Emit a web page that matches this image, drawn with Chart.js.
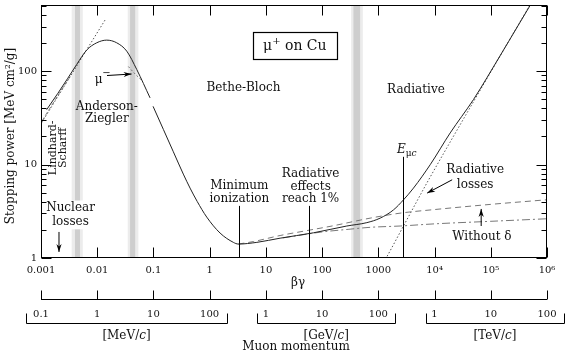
<!DOCTYPE html>
<html><head><meta charset="utf-8">
<script src="https://cdn.jsdelivr.net/npm/chart.js@4.4.1/dist/chart.umd.min.js"></script>
<style>html,body{margin:0;padding:0;background:#fff}#wrap{width:571px;height:357px}</style>
</head><body><div id="wrap"><canvas id="c" width="571" height="357"></canvas></div>
<script>
// ---- axis ticks ----
const xTickValues = [0.001,0.01,0.1,1,10,100,1000,1e4,1e5,1e6];
const xTickLabels = ['0.001','0.01','0.1','1','10','100','1000','10\u2074','10\u2075','10\u2076'];
const yTickValues = [1,10,100];
const yTickLabels = ['1','10','100'];
const momentumTickBG = [0.001,0.01,0.1,1,10,100,1000,1e4,1e5,1e6];
const momentumTickLabels = ['0.1','1','10','100','1','10','100','1','10','100'];
const momentumUnits = ['MeV','GeV','TeV'];
const momentumBrackets = [[0.00055,2],[7,2000],[7000,2e6]];

// ---- curves (βγ, stopping power MeV cm²/g) ----
const totalBG = [0.00126,0.002,0.003,0.00431,0.0065,0.0098,0.01476,0.0222,0.0335,0.0505,0.0871,0.093,0.0984,0.15,0.226,0.34,0.448,0.6,0.887,1.53,2.64,3.24,6.9,17.9,70,275,624,1076,1858,2800,4217,8356,18970,49200,85300,502000,1e6];
const totalS  = [38.7,58,84,117.7,168,201,214.6,201,163.6,104,51.7,null,42,23.8,13.7,7.9,5.6,4.03,2.74,1.85,1.47,1.41,1.47,1.63,1.86,2.2,2.39,2.67,3.27,4.19,5.6,9.95,21.8,49.6,84.8,506,1000];
const noDeltaBG = [3.24,6,17.9,50,150,714,2443,1e4,1e5,1e6];
const noDeltaS  = [1.41,1.5,1.74,1.95,2.2,2.67,3.02,3.3,3.75,4.2];
const ionBG = [20,100,300,714,2443,1e4,1e5,1e6];
const ionS  = [1.64,1.9,2.03,2.13,2.2,2.32,2.47,2.63];
const radBG = [1000,1377,2800,7780,49200,1e6];
const radS  = [0.72,1.0,2.2,6.8,47,1050];
const lindhardBG = [0.00103,0.01377];
const lindhardS  = [28.1,352];
const scharffBG = [0.00105,0.002,0.0035];
const scharffS  = [29.5,55,92];
const muMinusBG = [0.0358,0.045,0.06];
const muMinusS  = [112,96,81];

// ---- shaded regions (βγ) ----
const bandOuter = [[0.00351,0.00553],[0.0349,0.0539],[328,530]];
const bandInner = [[0.00402,0.00494],[0.0384,0.0474],[361,474]];

const pts = (xs, ys) => xs.map((v,i)=>({x:v, y:ys[i]}));
const FONT = 'DejaVu Serif';
Chart.defaults.font.family = FONT;

const labels = [
  {lines:['Bethe-Bloch'], bg:3.98, s:66.2, lh:13},
  {lines:['Radiative'], bg:4670, s:63.5, lh:13},
  {lines:['Anderson-','Ziegler'], bg:0.0148, s:35.7, lh:12},
  {lines:['Minimum','ionization'], bg:3.37, s:5.02, lh:13.3},
  {lines:['Radiative','effects','reach 1%'], bg:62.4, s:5.82, lh:12.7},
  {lines:['Radiative','losses'], bg:52700, s:7.31, lh:14.5},
  {lines:['Without \u03b4'], bg:69500, s:1.69, lh:13},
  {lines:['Nuclear','losses'], bg:0.00335, s:2.89, lh:13.4, white:true}
];
const vLines = [{bg:3.3, top:3.61},{bg:59.4, top:3.61},{bg:2800, top:12.1}];
const arrows = [
  {from:[0.01493,89.7], to:[0.0408,93.1]},
  {from:[0.00209,1.90], to:[0.00209,1.16]},
  {from:[20560,6.87], to:[7380,4.95]},
  {from:[67500,2.20], to:[67500,3.35]}
];

function arrow(ctx,x0,y0,x1,y1){
  ctx.beginPath(); ctx.moveTo(x0,y0); ctx.lineTo(x1,y1); ctx.stroke();
  const ang=Math.atan2(y1-y0,x1-x0), L=8, W=2.6;
  ctx.beginPath();
  ctx.moveTo(x1,y1);
  ctx.lineTo(x1-L*Math.cos(ang)+W*Math.sin(ang), y1-L*Math.sin(ang)-W*Math.cos(ang));
  ctx.lineTo(x1-L*0.7*Math.cos(ang), y1-L*0.7*Math.sin(ang));
  ctx.lineTo(x1-L*Math.cos(ang)-W*Math.sin(ang), y1-L*Math.sin(ang)+W*Math.cos(ang));
  ctx.closePath(); ctx.fill();
}

const decor = {
  id:'decor',
  beforeDatasetsDraw(chart){
    const {ctx, chartArea:a} = chart; const xs=chart.scales.x, ys=chart.scales.y;
    ctx.save();
    bandOuter.forEach((r,i)=>{
      let x0=xs.getPixelForValue(r[0]), x1=xs.getPixelForValue(r[1]);
      ctx.fillStyle='#ececec'; ctx.fillRect(x0,a.top,x1-x0,a.bottom-a.top);
      const c=bandInner[i]; x0=xs.getPixelForValue(c[0]); x1=xs.getPixelForValue(c[1]);
      ctx.fillStyle='#cecece'; ctx.fillRect(x0,a.top,x1-x0,a.bottom-a.top);
    });
    ctx.font='12px "'+FONT+'"';
    labels.filter(l=>l.white).forEach(l=>{
      const cx=xs.getPixelForValue(l.bg), cy=ys.getPixelForValue(l.s);
      const w=Math.max(...l.lines.map(t=>ctx.measureText(t).width))+4, h=l.lines.length*l.lh+2;
      ctx.fillStyle='#fff'; ctx.fillRect(cx-w/2,cy-h/2,w,h);
    });
    ctx.restore();
  },
  afterDatasetsDraw(chart){
    const {ctx, chartArea:a} = chart; const xs=chart.scales.x, ys=chart.scales.y;
    const X=v=>xs.getPixelForValue(v), Y=v=>ys.getPixelForValue(v);
    ctx.save();
    ctx.strokeStyle='#000'; ctx.fillStyle='#111'; ctx.lineWidth=1;
    const L=Math.round(a.left)+0.5, R=Math.round(a.right)-0.5, T=Math.round(a.top)+0.5, B=Math.round(a.bottom)-0.5;
    ctx.strokeRect(L,T,R-L,B-T);
    // x ticks
    ctx.beginPath();
    xTickValues.forEach(v=>{const p=Math.round(X(v))+0.5; ctx.moveTo(p,B); ctx.lineTo(p,B-10); ctx.moveTo(p,T); ctx.lineTo(p,T+10);});
    // y ticks
    [1,10,100].forEach(d=>{for(let m=1;m<=9;m++){const v=m*d; if(v>ys.max) continue; const p=Math.round(Y(v))+0.5; const len=m===1?10:5;
      ctx.moveTo(L,p); ctx.lineTo(L+len,p); ctx.moveTo(R,p); ctx.lineTo(R-len,p);}});
    ctx.stroke();
    // vertical markers
    ctx.beginPath();
    vLines.forEach(l=>{const p=Math.round(X(l.bg))+0.5; ctx.moveTo(p,B); ctx.lineTo(p,Y(l.top));});
    ctx.stroke();
    // labels
    ctx.textAlign='center'; ctx.textBaseline='middle';
    ctx.font='12px "'+FONT+'"';
    labels.forEach(l=>{
      const cx=X(l.bg), cy=Y(l.s), n=l.lines.length;
      l.lines.forEach((t,i)=>ctx.fillText(t,cx,cy+(i-(n-1)/2)*l.lh));
    });
    // rotated Lindhard-Scharff
    ctx.font='11px "'+FONT+'"';
    [['Lindhard-',0.00166],['Scharff',0.00249]].forEach(([t,bg])=>{
      ctx.save(); ctx.translate(X(bg),Y(15.1)); ctx.rotate(-Math.PI/2); ctx.fillText(t,0,0); ctx.restore();
    });
    // mu- label
    ctx.font='12px "'+FONT+'"'; ctx.textAlign='left';
    const mx=X(0.0106)-4, my=Y(81.2);
    ctx.fillText('\u03bc',mx,my);
    ctx.font='10px "'+FONT+'"'; ctx.fillText('\u2212',mx+7.5,my-6);
    // E_muc
    ctx.font='italic 12px "'+FONT+'"';
    const ex=X(2800)-6.5, ey=Y(14.4);
    ctx.fillText('E',ex,ey);
    const ew=ctx.measureText('E').width;
    ctx.font='9px "'+FONT+'"'; ctx.fillText('\u03bc',ex+ew,ey+4);
    const uw=ctx.measureText('\u03bc').width;
    ctx.font='italic 9px "'+FONT+'"'; ctx.fillText('c',ex+ew+uw,ey+4);
    // arrows
    ctx.fillStyle='#000';
    arrows.forEach(ar=>arrow(ctx,X(ar.from[0]),Y(ar.from[1]),X(ar.to[0]),Y(ar.to[1])));
    ctx.fillStyle='#111';
    // box mu+ on Cu
    const bx=X(32.7), by=Y(189.6);
    ctx.font='14px "'+FONT+'"';
    const w1=ctx.measureText('\u03bc').width, w3=ctx.measureText(' on Cu').width;
    ctx.font='10px "'+FONT+'"'; const w2=ctx.measureText('+').width;
    const tw=w1+w2+w3, sx=bx-tw/2;
    ctx.font='14px "'+FONT+'"'; ctx.textAlign='left';
    ctx.fillText('\u03bc',sx,by+1); ctx.fillText(' on Cu',sx+w1+w2,by+1);
    ctx.font='10px "'+FONT+'"'; ctx.fillText('+',sx+w1,by-4);
    ctx.lineWidth=1.2;
    ctx.strokeRect(Math.round(bx-42)+0.5,Math.round(by-13.5)+0.5,84,27);
    ctx.lineWidth=1;
    // y title
    ctx.font='12px "'+FONT+'"'; ctx.textAlign='center';
    ctx.save(); ctx.translate(11,(a.top+a.bottom)/2+4.5); ctx.rotate(-Math.PI/2);
    ctx.fillText('Stopping power [MeV cm\u00b2/g]',0,0); ctx.restore();
    // x title
    ctx.fillText('\u03b2\u03b3',X(37.4),a.bottom+25);
    // momentum axis
    const my0=Math.round(a.bottom)+41.5;
    ctx.beginPath();
    ctx.moveTo(X(momentumTickBG[0]),my0); ctx.lineTo(X(momentumTickBG[momentumTickBG.length-1]),my0);
    momentumTickBG.forEach(v=>{const p=Math.round(X(v))+0.5; ctx.moveTo(p,my0); ctx.lineTo(p,my0-9);});
    const by0=my0+24;
    momentumBrackets.forEach(r=>{const p0=Math.round(X(r[0]))+0.5,p1=Math.round(X(r[1]))+0.5;
      ctx.moveTo(p0,by0-10); ctx.lineTo(p0,by0); ctx.lineTo(p1,by0); ctx.lineTo(p1,by0-10);});
    ctx.stroke();
    ctx.font='10px "'+FONT+'"';
    momentumTickBG.forEach((v,i)=>ctx.fillText(momentumTickLabels[i],X(v),my0+15));
    momentumBrackets.forEach((r,i)=>{
      const cx=(X(r[0])+X(r[1]))/2, cy=by0+12;
      ctx.font='12px "'+FONT+'"';
      const a1='['+momentumUnits[i]+'/', a3=']';
      const w1=ctx.measureText(a1).width, w3=ctx.measureText(a3).width;
      ctx.font='italic 12px "'+FONT+'"'; const w2=ctx.measureText('c').width;
      const st=cx-(w1+w2+w3)/2; ctx.textAlign='left';
      ctx.font='12px "'+FONT+'"'; ctx.fillText(a1,st,cy); ctx.fillText(a3,st+w1+w2,cy);
      ctx.font='italic 12px "'+FONT+'"'; ctx.fillText('c',st+w1,cy);
      ctx.textAlign='center';
    });
    ctx.font='12px "'+FONT+'"';
    ctx.fillText('Muon momentum',(a.left+a.right)/2+2,by0+23);
    ctx.restore();
  }
};

new Chart(document.getElementById('c'), {
  type:'line',
  data:{datasets:[
    {data:pts(totalBG,totalS), borderColor:'#222', borderWidth:1, spanGaps:false, cubicInterpolationMode:'monotone'},
    {data:pts(noDeltaBG,noDeltaS), borderColor:'#777', borderWidth:1, borderDash:[6,4], cubicInterpolationMode:'monotone'},
    {data:pts(ionBG,ionS), borderColor:'#777', borderWidth:1, borderDash:[8,3,2,3], cubicInterpolationMode:'monotone'},
    {data:pts(radBG,radS), borderColor:'#555', borderWidth:1, borderDash:[1.5,2], cubicInterpolationMode:'monotone'},
    {data:pts(lindhardBG,lindhardS), borderColor:'#555', borderWidth:1, borderDash:[1.5,2]},
    {data:pts(scharffBG,scharffS), borderColor:'#888', borderWidth:1, borderDash:[4,2], cubicInterpolationMode:'monotone'},
    {data:pts(muMinusBG,muMinusS), borderColor:'#777', borderWidth:1, borderDash:[2,2], cubicInterpolationMode:'monotone'}
  ]},
  options:{
    responsive:false, animation:false, parsing:true,
    layout:{padding:{top:5,right:24,left:0,bottom:0}},
    plugins:{legend:{display:false},tooltip:{enabled:false}},
    elements:{point:{radius:0}},
    scales:{
      x:{type:'logarithmic',min:0.001,max:1e6,
        afterBuildTicks:s=>{s.ticks=xTickValues.map(v=>({value:v}));},
        afterFit:s=>{s.height=99; s.paddingLeft=0; s.paddingRight=0;},
        grid:{display:false,drawTicks:false}, border:{display:false},
        ticks:{autoSkip:false,maxRotation:0,padding:6,color:'#111',font:{size:10},
          callback:(v,i)=>xTickLabels[i]}},
      y:{type:'logarithmic',min:1,max:510,
        afterBuildTicks:s=>{s.ticks=yTickValues.map(v=>({value:v}));},
        afterFit:s=>{s.width=41; s.paddingTop=0; s.paddingBottom=0;},
        grid:{display:false,drawTicks:false}, border:{display:false},
        ticks:{padding:4,color:'#111',font:{size:10},callback:(v,i)=>yTickLabels[i]}}
    }
  },
  plugins:[decor]
});
</script></body></html>
